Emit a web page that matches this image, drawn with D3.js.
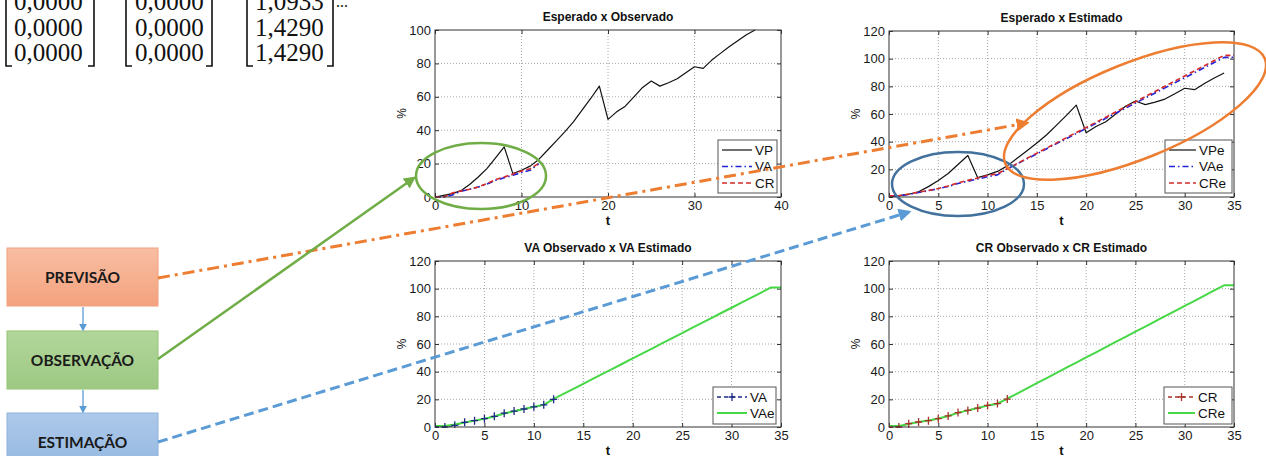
<!DOCTYPE html>
<html><head><meta charset="utf-8">
<script src="https://cdn.jsdelivr.net/npm/d3@7"></script>
<style>body{margin:0;background:#fff;} svg{display:block;}</style>
</head><body>
<svg id="c" width="1266" height="456"></svg>
<script>
// ---------------- DATA ----------------
const tVP = [0,1,2,3,4,5,6,7,8,9,10,11,12,13,14,15,16,17,18,19,20,21,22,23,24,25,26,27,28,29,30,31,32,33,34,35,36,37];
const VP  = [0,1,2,3.8,7.5,12,17,23.5,30,14,16,18.5,22.5,28,33.5,39,45,52,59,66.4,46.5,51,54.4,60,65.6,69.4,66.4,68.4,70.8,74.4,78,77,82,86,90,93.6,97.2,100];
const tVPe = [0,1,2,3,4,5,6,7,8,9,10,11,12,13,14,15,16,17,18,19,20,21,22,23,24,25,26,27,28,29,30,31,32,33,34];
const VPe  = [0,1,2,3.8,7.5,12,17,23.5,30,14,16,18.5,22.5,28,33.5,39,45,52,59,66.4,46.5,51,54.4,60,65.6,69.4,66.8,68.6,70.8,74.6,78.6,77.6,82,86,89.6];
const tObs = [0,1,2,3,4,5,6,7,8,9,10,11,12];
const VA = [0,0,1.2,3.4,4.6,6,7.7,10,11.5,13,14.6,16,20];
const CR = [0,0,2.4,3.6,4.6,6,8,10.4,12,13.7,15.6,16.9,20.2];
const tEst = [0,1,2,3,4,5,6,7,8,9,10,11,12,13,14,15,16,17,18,19,20,21,22,23,24,25,26,27,28,29,30,31,32,33,34,35];
const VAe = [0.8,0.8,1.8,3.2,4.6,6,7.6,9.8,11.4,13,14.6,16,20.3,23.9,27.6,31.2,34.9,38.6,42.2,45.9,49.6,53.2,56.9,60.6,64.2,67.9,71.6,75.2,78.9,82.6,86.2,89.9,93.6,97.2,100.9,100.9];
const CRe = [0.8,0.8,2.2,3.6,4.7,6.1,7.9,10.2,12,13.7,15.5,16.8,20.5,24.2,28,31.7,35.4,39.1,42.9,46.6,50.3,54,57.7,61.5,65.2,68.9,72.6,76.3,80.1,83.8,87.5,91.2,94.9,98.7,102.4,102.4];
const xTicks40 = [0,10,20,30,40];
const xTicks35 = [0,5,10,15,20,25,30,35];
const yTicks100 = [0,20,40,60,80,100];
const yTicks120 = [0,20,40,60,80,100,120];
const matrixCols = [["0,0000","0,0000","0,0000"],["0,0000","0,0000","0,0000"],["1,0933","1,4290","1,4290"]];
const boxLabels = ["PREVISÃO","OBSERVAÇÃO","ESTIMAÇÃO"];
const titles = ["Esperado x Observado","Esperado x Estimado","VA Observado x VA Estimado","CR Observado x CR Estimado"];

// ---------------- SETUP ----------------
const svg = d3.select("#c");
svg.append("rect").attr("width",1266).attr("height",456).attr("fill","#fff");
const defs = svg.append("defs");
const SANS = "'Liberation Sans', Arial, sans-serif";

// Matrices
const matX = [{bl:6, tx:14, br:94},{bl:126, tx:135, br:212},{bl:247, tx:255, br:333}];
const rowY = [10, 36, 61];
matrixCols.forEach((col, ci) => {
  const m = matX[ci];
  const g = svg.append("g");
  col.forEach((s, ri) => {
    g.append("text").attr("x", m.tx).attr("y", rowY[ri]).text(s)
      .attr("font-family","'Liberation Serif', 'Times New Roman', serif").attr("font-size",25).attr("fill","#111");
  });
  g.append("path").attr("d",`M${m.bl+6},-5H${m.bl}V66H${m.bl+6}`).attr("fill","none").attr("stroke","#111").attr("stroke-width",1.6);
  g.append("path").attr("d",`M${m.br-6},-5H${m.br}V66H${m.br-6}`).attr("fill","none").attr("stroke","#111").attr("stroke-width",1.6);
});
svg.append("text").attr("x",336).attr("y",7).text("...").attr("font-family","'Liberation Serif', serif").attr("font-size",16).attr("fill","#111");

// ---------------- PLOTS ----------------
const C_BLUE = "#2424d6", C_RED = "#d42a2a", C_GREEN = "#46d846", C_NAVY = "#1e2a84", C_DRED = "#a8322a";
let clipN = 0;
function plot(cfg){
  const g = svg.append("g");
  const x = d3.scaleLinear().domain(cfg.xd).range([cfg.l, cfg.r]);
  const y = d3.scaleLinear().domain(cfg.yd).range([cfg.b, cfg.t]);
  g.append("rect").attr("x",cfg.l).attr("y",cfg.t).attr("width",cfg.r-cfg.l).attr("height",cfg.b-cfg.t).attr("fill","#fff");
  g.selectAll(".gx").data(cfg.xt.filter(v => v>cfg.xd[0] && v<cfg.xd[1])).join("line")
    .attr("x1",d=>x(d)).attr("x2",d=>x(d)).attr("y1",cfg.t).attr("y2",cfg.b)
    .attr("stroke","#a8a8a8").attr("stroke-width",1).attr("stroke-dasharray","1,2");
  g.selectAll(".gy").data(cfg.yt.filter(v => v>cfg.yd[0] && v<cfg.yd[1])).join("line")
    .attr("y1",d=>y(d)).attr("y2",d=>y(d)).attr("x1",cfg.l).attr("x2",cfg.r)
    .attr("stroke","#a8a8a8").attr("stroke-width",1).attr("stroke-dasharray","1,2");
  const styleAx = sel => { sel.select(".domain").remove(); sel.selectAll("line").attr("stroke","#333");
    sel.selectAll("text").attr("font-family",SANS).attr("font-size",13).attr("fill","#1a1a1a"); };
  g.append("g").attr("transform",`translate(0,${cfg.b})`).call(d3.axisBottom(x).tickValues(cfg.xt).tickSize(-4).tickPadding(4)).call(styleAx);
  g.append("g").attr("transform",`translate(${cfg.l},0)`).call(d3.axisLeft(y).tickValues(cfg.yt).tickSize(-4).tickPadding(4)).call(styleAx);
  g.append("g").attr("transform",`translate(0,${cfg.t})`).call(d3.axisTop(x).tickValues(cfg.xt).tickSize(-4).tickFormat("")).call(styleAx);
  g.append("g").attr("transform",`translate(${cfg.r},0)`).call(d3.axisRight(y).tickValues(cfg.yt).tickSize(-4).tickFormat("")).call(styleAx);
  const id = "clip"+(clipN++);
  defs.append("clipPath").attr("id",id).append("rect").attr("x",cfg.l).attr("y",cfg.t-1).attr("width",cfg.r-cfg.l).attr("height",cfg.b-cfg.t+2);
  const lg = g.append("g").attr("clip-path",`url(#${id})`);
  cfg.series.forEach(s => {
    const line = d3.line().x((d,i)=>x(s.t[i])).y(d=>y(d));
    lg.append("path").datum(s.v).attr("d",line).attr("fill","none").attr("stroke",s.color)
      .attr("stroke-width",s.w).attr("stroke-dasharray",s.dash||null).attr("stroke-linejoin","round");
  });
  cfg.series.filter(s=>s.marker).forEach(s => {
    lg.selectAll(null).data(s.v).join("path")
      .attr("transform",(d,i)=>`translate(${x(s.t[i])},${y(d)})`)
      .attr("d","M-3.5,0H3.5M0,-4V4").attr("stroke",s.mcolor).attr("stroke-width",1.3);
  });
  g.append("rect").attr("x",cfg.l).attr("y",cfg.t).attr("width",cfg.r-cfg.l).attr("height",cfg.b-cfg.t)
    .attr("fill","none").attr("stroke","#333").attr("stroke-width",1);
  g.append("text").attr("x",(cfg.l+cfg.r)/2).attr("y",cfg.t-9).attr("text-anchor","middle").text(cfg.title)
    .attr("font-family",SANS).attr("font-weight","bold").attr("font-size",12).attr("fill","#111");
  g.append("text").attr("x",(cfg.l+cfg.r)/2).attr("y",cfg.b+28).attr("text-anchor","middle").text("t")
    .attr("font-family",SANS).attr("font-weight","bold").attr("font-size",13).attr("fill","#111");
  g.append("text").attr("transform",`translate(${cfg.l-29},${(cfg.t+cfg.b)/2}) rotate(-90)`).attr("text-anchor","middle").text("%")
    .attr("font-family",SANS).attr("font-size",12).attr("fill","#111");
  const L = cfg.legend;
  const leg = g.append("g");
  leg.append("rect").attr("x",L.x).attr("y",L.y).attr("width",L.w).attr("height",L.h).attr("fill","#fff").attr("stroke","#555").attr("stroke-width",1);
  cfg.series.forEach((s,i) => {
    const yy = L.y + 10 + i*L.dy;
    leg.append("line").attr("x1",L.x+4).attr("x2",L.x+4+L.sl).attr("y1",yy).attr("y2",yy)
      .attr("stroke",s.color).attr("stroke-width",s.w).attr("stroke-dasharray",s.dash||null);
    if (s.marker) leg.append("path").attr("transform",`translate(${L.x+4+L.sl/2},${yy})`).attr("d","M-3.5,0H3.5M0,-4V4").attr("stroke",s.mcolor).attr("stroke-width",1.3);
    leg.append("text").attr("x",L.x+7+L.sl).attr("y",yy).attr("dy","0.36em").text(s.name)
      .attr("font-family",SANS).attr("font-size",13.5).attr("fill","#111");
  });
}

plot({l:435,r:781,t:30,b:197,xd:[0,40],yd:[0,100],xt:xTicks40,yt:yTicks100,title:titles[0],
  series:[{name:"VP",t:tVP,v:VP,color:"#111",w:1.2},
          {name:"VA",t:tObs,v:VA,color:C_BLUE,w:1.6,dash:"6,3,1.5,3"},
          {name:"CR",t:tObs,v:CR,color:C_RED,w:1.6,dash:"5,3"}],
  legend:{x:718,y:140,w:59,h:53,dy:16.5,sl:30}});
plot({l:889,r:1234,t:31,b:197,xd:[0,35],yd:[0,120],xt:xTicks35,yt:yTicks120,title:titles[1],
  series:[{name:"VPe",t:tVPe,v:VPe,color:"#111",w:1.2},
          {name:"VAe",t:tEst,v:VAe,color:C_BLUE,w:1.6,dash:"6,3,1.5,3"},
          {name:"CRe",t:tEst,v:CRe,color:C_RED,w:1.6,dash:"5,3"}],
  legend:{x:1165,y:140,w:67,h:53,dy:16.5,sl:27}});
plot({l:435,r:781,t:261,b:427,xd:[0,35],yd:[0,120],xt:xTicks35,yt:yTicks120,title:titles[2],
  series:[{name:"VA",t:tObs,v:VA,color:C_NAVY,w:1.3,dash:"4,3",marker:true,mcolor:C_NAVY},
          {name:"VAe",t:tEst,v:VAe,color:C_GREEN,w:2}],
  legend:{x:713,y:387,w:63,h:37,dy:16,sl:30}});
plot({l:889,r:1234,t:261,b:427,xd:[0,35],yd:[0,120],xt:xTicks35,yt:yTicks120,title:titles[3],
  series:[{name:"CR",t:tObs,v:CR,color:C_DRED,w:1.3,dash:"4,3",marker:true,mcolor:C_DRED},
          {name:"CRe",t:tEst,v:CRe,color:C_GREEN,w:2}],
  legend:{x:1164,y:387,w:68,h:37,dy:16,sl:27}});

// ---------------- DIAGRAM ----------------
function arrowMarker(id, color, size){
  defs.append("marker").attr("id",id).attr("viewBox","0 0 10 10").attr("refX",8).attr("refY",5)
    .attr("markerWidth",size).attr("markerHeight",size).attr("markerUnits","userSpaceOnUse").attr("orient","auto")
    .append("path").attr("d","M0,0L10,5L0,10Z").attr("fill",color);
}
const O = "#ed7d31", G = "#70ad47", B = "#5b9bd5", BD = "#41719c";
arrowMarker("aO", O, 13); arrowMarker("aG", G, 12); arrowMarker("aB", B, 13); arrowMarker("aS", B, 8);

const grads = [["gO","#f8bea3","#f4a27e","#f0a17d"],["gG","#b2d69a","#9dc984","#93c374"],["gB","#adc9ea","#93b6e0","#8fb1dc"]];
grads.forEach(([id,c1,c2]) => {
  const lg = defs.append("linearGradient").attr("id",id).attr("x1",0).attr("y1",0).attr("x2",0).attr("y2",1);
  lg.append("stop").attr("offset","0%").attr("stop-color",c1);
  lg.append("stop").attr("offset","100%").attr("stop-color",c2);
});
const boxY = [248, 331, 413];
boxLabels.forEach((lab,i) => {
  svg.append("rect").attr("x",7).attr("y",boxY[i]).attr("width",151).attr("height",i===2?60:58)
    .attr("fill",`url(#${grads[i][0]})`).attr("stroke",grads[i][3]).attr("stroke-width",1);
  svg.append("text").attr("x",82.5).attr("y",boxY[i]+29).attr("dy","0.36em").attr("text-anchor","middle").text(lab)
    .attr("font-family","Lato, 'Open Sans', sans-serif").attr("font-weight","bold").attr("font-size",15.5).attr("fill","#1a1a1a");
});
svg.append("line").attr("x1",83).attr("y1",307).attr("x2",83).attr("y2",330).attr("stroke",B).attr("stroke-width",1.3).attr("marker-end","url(#aS)");
svg.append("line").attr("x1",83).attr("y1",390).attr("x2",83).attr("y2",412).attr("stroke",B).attr("stroke-width",1.3).attr("marker-end","url(#aS)");

svg.append("ellipse").attr("cx",481).attr("cy",176).attr("rx",65).attr("ry",33).attr("fill","none").attr("stroke",G).attr("stroke-width",2.5);
svg.append("ellipse").attr("cx",958).attr("cy",184).attr("rx",66).attr("ry",32).attr("fill","none").attr("stroke",BD).attr("stroke-width",2.5);
svg.append("ellipse").attr("transform","translate(1135,111) rotate(-22)").attr("rx",140).attr("ry",48).attr("fill","none").attr("stroke",O).attr("stroke-width",2.5);

svg.append("line").attr("x1",158).attr("y1",278).attr("x2",1027).attr("y2",123).attr("stroke",O).attr("stroke-width",3)
  .attr("stroke-dasharray","12,5,3,5").attr("marker-end","url(#aO)");
svg.append("line").attr("x1",158).attr("y1",359).attr("x2",414).attr("y2",178).attr("stroke",G).attr("stroke-width",2.5)
  .attr("marker-end","url(#aG)");
svg.append("line").attr("x1",158).attr("y1",442).attr("x2",909).attr("y2",212).attr("stroke",B).attr("stroke-width",3)
  .attr("stroke-dasharray","10,5").attr("marker-end","url(#aB)");
</script>
</body></html>
